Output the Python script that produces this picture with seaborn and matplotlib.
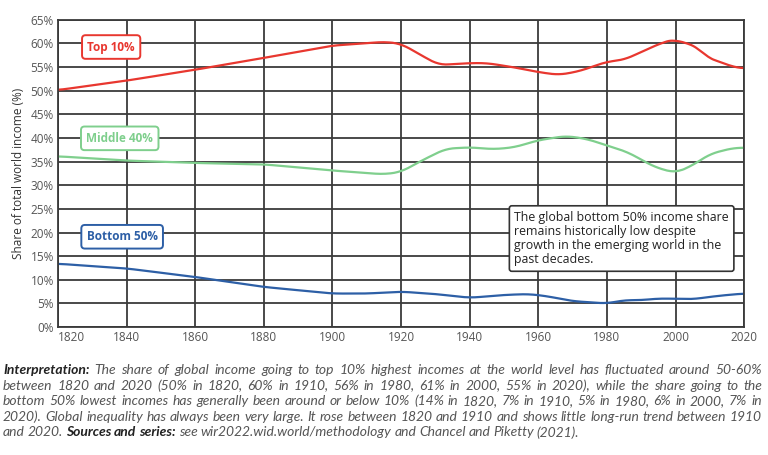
import numpy as np
import pandas as pd
import seaborn as sns
import matplotlib.pyplot as plt
from matplotlib.ticker import PercentFormatter

sns.set_theme(style="white")
plt.rcParams["font.family"] = ["Open Sans", "DejaVu Sans"]

# values (% of world income)
top10_years = [1820, 1840, 1860, 1880, 1900, 1910, 1915, 1920, 1926, 1931, 1940, 1945,
               1953, 1960, 1966, 1972, 1980, 1985, 1992, 1996, 2000, 2002, 2006, 2009,
               2014, 2017, 2020]
top10_share = [50.1, 52.1, 54.4, 56.9, 59.5, 60.0, 60.3, 59.9, 57.4, 55.4, 55.8, 55.8,
               54.9, 53.9, 53.3, 54.1, 56.1, 56.5, 58.8, 60.1, 60.9, 60.1, 59.5, 57.0,
               55.8, 54.9, 54.7]

mid40_years = [1820, 1840, 1860, 1880, 1900, 1915, 1920, 1926, 1933, 1940, 1947, 1953,
               1960, 1968, 1974, 1980, 1986, 1994, 2000, 2005, 2010, 2017, 2020]
mid40_share = [36.1, 35.2, 34.7, 34.4, 33.1, 32.3, 32.8, 35.2, 37.7, 38.0, 37.6, 38.0,
               39.5, 40.4, 39.8, 38.4, 37.0, 33.8, 32.6, 34.2, 36.6, 37.9, 37.9]

bot50_years = [1820, 1840, 1860, 1880, 1900, 1910, 1920, 1930, 1940, 1950, 1957, 1962,
               1970, 1980, 1985, 1990, 1995, 2000, 2005, 2010, 2015, 2020]
bot50_share = [13.4, 12.4, 10.6, 8.5, 7.1, 7.1, 7.5, 7.0, 6.2, 6.8, 7.0, 6.6,
               5.5, 5.0, 5.7, 5.7, 6.05, 6.0, 5.9, 6.4, 6.8, 7.1]

groups = ["Top 10%", "Middle 40%", "Bottom 50%"]
colors = {"Top 10%": "#e8372f", "Middle 40%": "#7fcf8d", "Bottom 50%": "#2d5fa6"}

df = pd.concat([
    pd.DataFrame({"year": top10_years, "share": top10_share, "group": "Top 10%"}),
    pd.DataFrame({"year": mid40_years, "share": mid40_share, "group": "Middle 40%"}),
    pd.DataFrame({"year": bot50_years, "share": bot50_share, "group": "Bottom 50%"}),
])

# smooth the read points a bit so curves look like the original
rows = []
for g, d in df.groupby("group"):
    xs = np.arange(1820, 2020.5, 0.5)
    ys = np.interp(xs, d["year"], d["share"])
    k = np.ones(11) / 11
    ys_s = np.convolve(np.pad(ys, 5, mode="edge"), k, mode="valid")
    rows.append(pd.DataFrame({"year": xs, "share": ys_s, "group": g}))
smooth = pd.concat(rows)

fig = plt.figure(figsize=(7.68, 4.55), dpi=100)
ax = fig.add_axes([0.0755, 0.281, 0.8935, 0.676])

sns.lineplot(data=smooth, x="year", y="share", hue="group", palette=colors,
             hue_order=groups, linewidth=1.6, legend=False, ax=ax, sort=True)

ax.set_xlim(1820, 2020)
ax.set_ylim(0, 65)
ax.set_xticks(range(1820, 2021, 20))
ax.set_yticks(range(0, 66, 5))
ax.yaxis.set_major_formatter(PercentFormatter(decimals=0))
ax.grid(True, color="#3a3a3a", linewidth=1.3)
ax.set_axisbelow(True)
for s in ax.spines.values():
    s.set_color("#3a3a3a")
    s.set_linewidth(1.3)
ax.tick_params(axis="both", labelsize=8.5, colors="#555555", length=0, pad=3)
ax.get_xticklabels()[0].set_horizontalalignment("left")
ax.set_xlabel("")
ax.set_ylabel("Share of total world income (%)", fontsize=8.5, color="#333333", labelpad=4)

label_pos = {"Top 10%": (1835.5, 59.2), "Middle 40%": (1838.0, 39.9), "Bottom 50%": (1838.7, 19.1)}
for g in groups:
    x, y = label_pos[g]
    ax.text(x, y, g, ha="center", va="center", fontsize=8.5, fontweight="bold",
            color=colors[g], zorder=5,
            bbox=dict(boxstyle="round,pad=0.45,rounding_size=0.3", fc="white",
                      ec=colors[g], lw=1.4))

ax.text(1953.0, 24.6,
        "The global bottom 50% income share\nremains historically low despite\n"
        "growth in the emerging world in the\npast decades.",
        ha="left", va="top", fontsize=8.9, color="#222222", linespacing=1.12, zorder=5,
        bbox=dict(boxstyle="round,pad=0.4,rounding_size=0.2", fc="white",
                  ec="#333333", lw=1.2))

# caption with bold lead-ins, justified like the original
cap_lines = [
    [("Interpretation:", "bold"), ("The share of global income going to top 10% highest incomes at the world level has fluctuated around 50-60%", "normal")],
    [("between 1820 and 2020 (50% in 1820, 60% in 1910, 56% in 1980, 61% in 2000, 55% in 2020), while the share going to the", "normal")],
    [("bottom 50% lowest incomes has generally been around or below 10% (14% in 1820, 7% in 1910, 5% in 1980, 6% in 2000, 7% in", "normal")],
    [("2020). Global inequality has always been very large. It rose between 1820 and 1910 and shows little long-run trend between 1910", "normal")],
    [("and 2020.", "normal"), ("Sources and series:", "bold"), ("see wir2022.wid.world/methodology and Chancel and Piketty (2021).", "normal")],
]
x_left, x_right = 3, 762
renderer = fig.canvas.get_renderer()
for i, parts in enumerate(cap_lines):
    ypix = 455 - (370 + i * 15.6)
    words = []
    for txt, w in parts:
        for wd in txt.split(" "):
            words.append((wd, w))
    arts = []
    widths = []
    for wd, w in words:
        t = fig.text(0, ypix / 455, wd, fontsize=10.0, style="italic", fontweight=w,
                     family=["Lato", "DejaVu Sans"],
                     color="#555555" if w == "normal" else "#222222",
                     va="center", ha="left")
        arts.append(t)
        widths.append(t.get_window_extent(renderer).width)
    if i < len(cap_lines) - 1:
        gap = (x_right - x_left - sum(widths)) / (len(words) - 1)
    else:
        gap = 2.9
    x = x_left
    for t, wdt in zip(arts, widths):
        t.set_x(x / 768)
        x += wdt + gap

fig.savefig("out.png", dpi=100)
